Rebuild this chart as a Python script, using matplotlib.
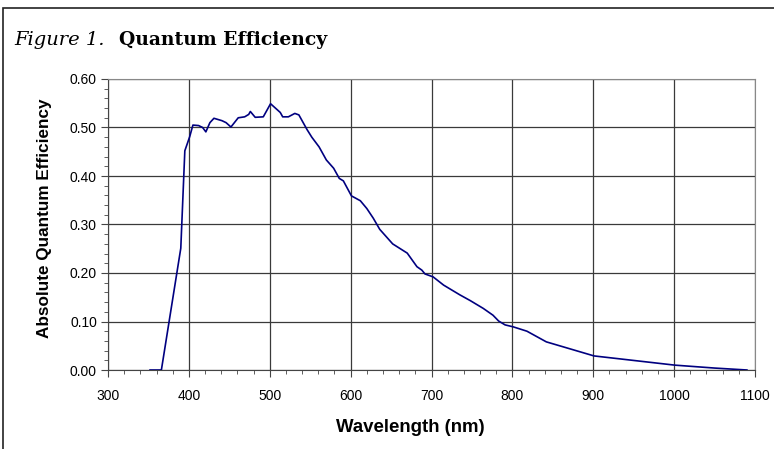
import numpy as np
import matplotlib
matplotlib.use("Agg")
import matplotlib.pyplot as plt
from matplotlib.patches import Rectangle
from matplotlib.ticker import MultipleLocator, FormatStrFormatter

# Quantum efficiency curve
wavelength = [352, 366, 390, 395, 401, 405, 412, 417, 421, 426, 431, 441, 446, 452,
              461, 469, 474, 476, 482, 492, 501, 513, 516, 523, 531, 536, 546, 552,
              561, 570, 579, 586, 591, 601, 612, 620, 628, 636, 652, 670, 682, 688,
              692, 702, 715, 735, 748, 764, 776, 783, 791, 801, 818, 842, 901, 1001,
              1050, 1090]
qe = [0.0, 0.0, 0.251, 0.452, 0.481, 0.505, 0.504, 0.50, 0.491, 0.51, 0.519, 0.514,
      0.51, 0.501, 0.52, 0.522, 0.527, 0.533, 0.521, 0.522, 0.549, 0.531, 0.522,
      0.522, 0.529, 0.526, 0.496, 0.48, 0.46, 0.433, 0.416, 0.395, 0.39, 0.359,
      0.349, 0.333, 0.313, 0.29, 0.26, 0.241, 0.213, 0.206, 0.198, 0.192, 0.175,
      0.155, 0.143, 0.127, 0.113, 0.101, 0.093, 0.089, 0.08, 0.058, 0.029, 0.01,
      0.004, 0.0]

fig = plt.figure(figsize=(7.74, 4.49), dpi=100)
ax = fig.add_axes([108 / 774, 1 - 370 / 449, (755 - 108) / 774, (370 - 79) / 449])

ax.plot(wavelength, qe, color="#000080", linewidth=1.2, zorder=3)

ax.set_xlim(300, 1100)
ax.set_ylim(0, 0.6)
ax.xaxis.set_major_locator(MultipleLocator(100))
ax.xaxis.set_minor_locator(MultipleLocator(20))
ax.yaxis.set_major_locator(MultipleLocator(0.1))
ax.yaxis.set_minor_locator(MultipleLocator(0.02))
ax.yaxis.set_major_formatter(FormatStrFormatter("%.2f"))
ax.grid(True, which="major", color="#3a3a3a", linewidth=0.9)
ax.set_axisbelow(True)

for s in ax.spines.values():
    s.set_color("#888888")
ax.spines["left"].set_color("#444444")
ax.spines["bottom"].set_color("#444444")

ax.tick_params(which="both", direction="out", color="#444444", labelsize=10)
ax.tick_params(which="major", length=5)
ax.tick_params(which="minor", length=3)
ax.tick_params(axis="x", pad=9)
ax.tick_params(axis="y", pad=3)
for lab in ax.get_xticklabels() + ax.get_yticklabels():
    lab.set_fontfamily("Liberation Sans")

ax.set_ylabel("Absolute Quantum Efficiency", fontsize=12.3, fontweight="bold",
              fontfamily="Liberation Sans")
ax.yaxis.set_label_coords(-56 / 647, 0.52)
fig.text(410 / 774, 1 - 428 / 449, "Wavelength (nm)", fontsize=13.4, fontweight="bold",
         fontfamily="Liberation Sans", ha="center", va="center")

# title and outer frame
fig.text(14 / 774, 1 - 45 / 449, "Figure 1.", fontsize=14, fontstyle="italic",
         fontfamily="DejaVu Serif")
fig.text(119 / 774, 1 - 45 / 449, "Quantum Efficiency", fontsize=13.5, fontweight="bold",
         fontfamily="DejaVu Serif")
fig.patches.append(Rectangle((3 / 774, -0.2), 1.2, 1.2 - 8 / 449, transform=fig.transFigure,
                             fill=False, edgecolor="#222222", linewidth=1.2))

fig.savefig("out.png", dpi=100)
